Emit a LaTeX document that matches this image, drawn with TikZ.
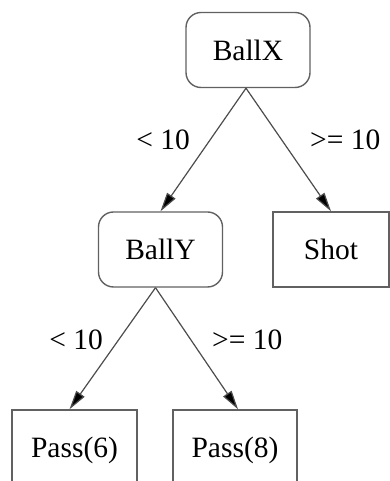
\documentclass[tikz,border=0pt]{standalone}
\usepackage{fontspec}
\setmainfont{Liberation Serif}
\usetikzlibrary{arrows.meta}
\begin{document}
\begin{tikzpicture}[x=1pt,y=1pt,
  every node/.style={font=\fontsize{29.5}{34}\selectfont},
  test/.style={draw=black!62, line width=1.4pt, rounded corners=15pt,
    minimum width=124pt, minimum height=75pt, inner sep=0pt},
  leaf/.style={draw=black!62, line width=1.4pt,
    minimum height=75pt, inner sep=0pt},
  edge/.style={draw=black!70, line width=1.2pt,
    -{Triangle[length=19pt,width=10pt,fill=black]}},
  lbl/.style={inner sep=0pt}]
\useasboundingbox (0,0) rectangle (390,481);
\clip (0,0) rectangle (390,481);

% decision nodes
\node[test] (ballx) at (248,431) {BallX};
\node[test] (bally) at (160.5,231.5) {BallY};

% leaves
\node[leaf, minimum width=116pt] (shot) at (331,231.5) {Shot};
\node[leaf, minimum width=125pt, minimum height=80pt] (pass6) at (74.5,31) {Pass(6)};
\node[leaf, minimum width=124pt, minimum height=80pt] (pass8) at (235,31) {Pass(8)};

% branches
\draw[edge] ([xshift=-2pt]ballx.south) -- (bally.north);
\draw[edge] ([xshift=-2pt]ballx.south) -- (shot.north);
\draw[edge] ([xshift=-5pt]bally.south) -- ([xshift=-5pt]pass6.north);
\draw[edge] ([xshift=-5pt]bally.south) -- ([xshift=3pt]pass8.north);

% branch conditions
\node[lbl, anchor=east] (l1) at (190,341) {< 10};
\node[lbl, anchor=west] (l2) at (310,341) {>= 10};
\node[lbl, anchor=east] (l3) at (103,141) {< 10};
\node[lbl, anchor=west] (l4) at (212,141) {>= 10};
\end{tikzpicture}
\end{document}
